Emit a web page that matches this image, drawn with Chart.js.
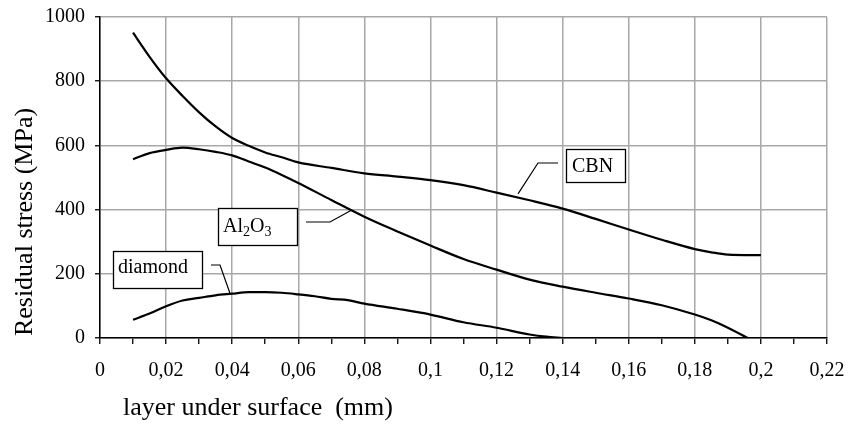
<!DOCTYPE html>
<html>
<head>
<meta charset="utf-8">
<script src="https://cdn.jsdelivr.net/npm/chart.js@4/dist/chart.umd.min.js"></script>
<style>
  html, body { margin: 0; padding: 0; background: #fff; }
  #wrap { width: 849px; height: 424px; position: relative; }
</style>
</head>
<body>
<div id="wrap"><canvas id="stress-chart"></canvas></div>
<script>
// ---------- DATA ----------
const cbnX = [0.01, 0.015, 0.02, 0.025, 0.03, 0.035, 0.04, 0.045, 0.05, 0.055, 0.06,
              0.07, 0.08, 0.09, 0.10, 0.11, 0.12, 0.13, 0.14, 0.15, 0.16, 0.17,
              0.18, 0.185, 0.19, 0.20];
const cbnY = [951, 876, 809, 754, 703, 659, 623, 599, 578, 563, 547,
              530, 513, 503, 492, 476, 453, 429, 403, 371, 338, 306,
              277, 267, 260, 258];

const al2o3X = [0.01, 0.015, 0.02, 0.025, 0.03, 0.035, 0.04, 0.045, 0.05, 0.055, 0.06,
                0.07, 0.08, 0.09, 0.10, 0.11, 0.12, 0.13, 0.14, 0.15, 0.16, 0.17,
                0.18, 0.185, 0.19, 0.196];
const al2o3Y = [557, 576, 586, 593, 588, 580, 569, 550, 531, 508, 483,
                430, 378, 332, 288, 246, 213, 182, 160, 141, 123, 102,
                73, 55, 32, 0];

const diamondX = [0.01, 0.015, 0.02, 0.025, 0.03, 0.035, 0.04, 0.045, 0.05, 0.055, 0.06,
                  0.065, 0.07, 0.075, 0.08, 0.09, 0.10, 0.11, 0.12, 0.13, 0.135, 0.14];
const diamondY = [57, 76, 99, 117, 125, 133, 138, 143, 143, 141, 136,
                  130, 122, 118, 107, 91, 73, 49, 32, 11, 4, 0];

const seriesNames = ["CBN", "Al2O3", "diamond"];
// where each callout leader touches its curve (x, MPa)
const leaderTargets = [[0.1265, 449], [0.0762, 399], [0.0393, 140]];

const yTicks = [0, 200, 400, 600, 800, 1000];

// ---------- HELPERS ----------
const FONT = "'Liberation Serif', 'Times New Roman', serif";

function toPoints(xs, ys) {
    return xs.map((x, i) => ({ x: x, y: ys[i] }));
}

function commaLabel(v) {
    return String(Math.round(v * 100) / 100).replace(".", ",");
}

// ---------- CALLOUT LAYOUT (pixels) ----------
const callouts = [
    { box: [566, 149, 59, 33], textX: 572, baseY: 172, from: [558, 163], elbow: [538, 163] },
    { box: [218, 208, 79, 37], textX: 223, baseY: 232, from: [306, 222], elbow: [330, 222] },
    { box: [113, 251, 89, 37], textX: 118, baseY: 273, from: [211, 265], elbow: [220, 265] }
];

const overlayPlugin = {
    id: "overlay",
    afterDatasetsDraw(chart) {
        const ctx = chart.ctx;
        const xs = chart.scales.x;
        const ys = chart.scales.y;
        ctx.save();

        callouts.forEach((c, i) => {
            const t = leaderTargets[i];
            // leader line
            ctx.strokeStyle = "#000";
            ctx.lineWidth = 1.2;
            ctx.beginPath();
            ctx.moveTo(c.from[0], c.from[1]);
            ctx.lineTo(c.elbow[0], c.elbow[1]);
            ctx.lineTo(xs.getPixelForValue(t[0]), ys.getPixelForValue(t[1]));
            ctx.stroke();

            // box
            const [bx, by, bw, bh] = c.box;
            ctx.fillStyle = "#fff";
            ctx.fillRect(bx, by, bw, bh);
            ctx.lineWidth = 1.3;
            ctx.strokeRect(bx + 0.5, by + 0.5, bw, bh);

            // text
            ctx.fillStyle = "#000";
            ctx.textBaseline = "alphabetic";
            ctx.textAlign = "left";
            const name = seriesNames[i];
            if (name === "Al2O3") {
                let x = c.textX;
                const parts = [["Al", false], ["2", true], ["O", false], ["3", true]];
                parts.forEach(([s, sub]) => {
                    ctx.font = (sub ? "14px " : "20px ") + FONT;
                    ctx.fillText(s, x, c.baseY + (sub ? 4 : 0));
                    x += ctx.measureText(s).width;
                });
            } else {
                ctx.font = "20px " + FONT;
                ctx.fillText(name, c.textX, c.baseY);
            }
        });

        // axis titles
        ctx.fillStyle = "#000";
        ctx.font = "26px " + FONT;
        ctx.textAlign = "left";
        ctx.textBaseline = "alphabetic";
        ctx.fillText("layer under surface  (mm)", 123, 415);

        ctx.save();
        ctx.translate(32, 222);
        ctx.rotate(-Math.PI / 2);
        ctx.textAlign = "center";
        ctx.fillText("Residual stress (MPa)", 0, 0);
        ctx.restore();

        ctx.restore();
    }
};

// ---------- CHART ----------
function lineSet(label, xs, ys) {
    return {
        label: label,
        data: toPoints(xs, ys),
        borderColor: "#000",
        borderWidth: 2.2,
        pointRadius: 0,
        fill: false,
        cubicInterpolationMode: "monotone"
    };
}

const ctx = document.getElementById("stress-chart").getContext("2d");
new Chart(ctx, {
    type: "line",
    data: {
        datasets: [
            lineSet(seriesNames[0], cbnX, cbnY),
            lineSet(seriesNames[1], al2o3X, al2o3Y),
            lineSet(seriesNames[2], diamondX, diamondY)
        ]
    },
    options: {
        responsive: true,
        maintainAspectRatio: false,
        animation: false,
        layout: { padding: { top: 17, right: 22, left: 0, bottom: 0 } },
        plugins: {
            legend: { display: false },
            tooltip: { enabled: false }
        },
        scales: {
            x: {
                type: "linear",
                min: 0,
                max: 0.22,
                afterFit(scale) {
                    scale.height = 86;
                    scale.paddingLeft = 0;
                    scale.paddingRight = 0;
                },
                afterBuildTicks(scale) {
                    scale.ticks = Array.from({ length: 23 }, (_, i) => ({ value: i / 100 }));
                },
                ticks: {
                    color: "#000",
                    font: { family: FONT, size: 20 },
                    padding: 15,
                    maxRotation: 0,
                    autoSkip: false,
                    callback: (v, i) => (i % 2 === 0 ? commaLabel(v) : "")
                },
                grid: {
                    color: c => (c.index % 2 === 0 ? "#a8a8a8" : "rgba(0,0,0,0)"),
                    lineWidth: 1.5,
                    tickColor: "#000",
                    tickLength: 6,
                    tickWidth: 1.3
                },
                border: { color: "#000", width: 1.5 }
            },
            y: {
                min: 0,
                max: 1000,
                afterFit(scale) {
                    scale.width = 100;
                    scale.paddingTop = 0;
                    scale.paddingBottom = 0;
                },
                afterBuildTicks(scale) {
                    scale.ticks = yTicks.map(v => ({ value: v }));
                },
                ticks: {
                    color: "#000",
                    font: { family: FONT, size: 20 },
                    padding: 10,
                    callback: v => String(v)
                },
                grid: {
                    color: "#a8a8a8",
                    lineWidth: 1.5,
                    tickColor: "#000",
                    tickLength: 5,
                    tickWidth: 1.3
                },
                border: { color: "#000", width: 1.5 }
            }
        }
    },
    plugins: [overlayPlugin]
});
</script>
</body>
</html>
